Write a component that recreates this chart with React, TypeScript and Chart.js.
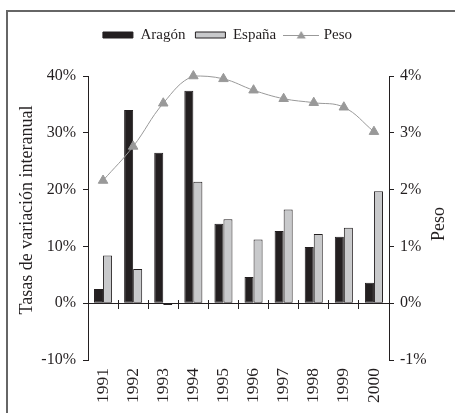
import React, { useEffect, useRef } from 'react';
import { Chart, registerables } from 'chart.js';

Chart.register(...registerables);

const categories = ['1991', '1992', '1993', '1994', '1995', '1996', '1997', '1998', '1999', '2000'];
const aragon = [2.5, 34.0, 26.5, 37.4, 14.0, 4.6, 12.7, 9.9, 11.7, 3.6];
const espana = [8.4, 6.0, -0.3, 21.4, 14.8, 11.2, 16.5, 12.2, 13.3, 19.7];
const peso = [2.16, 2.76, 3.52, 4.0, 3.95, 3.75, 3.6, 3.53, 3.45, 3.02];

const leftTitle = 'Tasas de variación interanual';
const rightTitle = 'Peso';
const seriesNames = ['Aragón', 'España', 'Peso'];

const INK = '#231f20';
const GRAY_BAR = '#c8c9cb';
const LINE_GRAY = '#999999';
const FONT = '"Liberation Serif", "Times New Roman", serif';

export default function App() {
  const ref = useRef<HTMLCanvasElement>(null);

  useEffect(() => {
    if (!ref.current) return;

    const legendLine = document.createElement('canvas');
    legendLine.width = 36;
    legendLine.height = 10;
    const lc = legendLine.getContext('2d')!;
    lc.strokeStyle = LINE_GRAY;
    lc.lineWidth = 1;
    lc.beginPath();
    lc.moveTo(0, 5.5);
    lc.lineTo(36, 5.5);
    lc.stroke();
    lc.fillStyle = LINE_GRAY;
    lc.beginPath();
    lc.moveTo(18, 1);
    lc.lineTo(22.5, 8.5);
    lc.lineTo(13.5, 8.5);
    lc.closePath();
    lc.fill();

    const sideTitles = {
      id: 'sideTitles',
      afterDraw(chart: any) {
        const { ctx } = chart;
        ctx.save();
        ctx.fillStyle = INK;
        ctx.font = `18px ${FONT}`;
        ctx.textAlign = 'center';
        ctx.textBaseline = 'middle';
        ctx.translate(27, 210);
        ctx.rotate(-Math.PI / 2);
        ctx.fillText(leftTitle, 0, 0);
        ctx.restore();
        ctx.save();
        ctx.fillStyle = INK;
        ctx.font = `18px ${FONT}`;
        ctx.textAlign = 'center';
        ctx.textBaseline = 'middle';
        ctx.translate(439, 224);
        ctx.rotate(-Math.PI / 2);
        ctx.fillText(rightTitle, 0, 0);
        ctx.restore();
      },
    };

    const tickFont = { family: FONT, size: 16 };

    const chart = new Chart(ref.current, {
      type: 'bar',
      data: {
        labels: categories,
        datasets: [
          {
            type: 'bar',
            label: seriesNames[0],
            data: aragon,
            backgroundColor: INK,
            borderColor: INK,
            borderWidth: 1,
            borderSkipped: false,
            xAxisID: 'x',
            yAxisID: 'y',
            order: 1,
            barPercentage: 1,
            categoryPercentage: 0.6,
          },
          {
            type: 'bar',
            label: seriesNames[1],
            data: espana,
            backgroundColor: GRAY_BAR,
            borderColor: INK,
            borderWidth: 1,
            borderSkipped: false,
            xAxisID: 'x',
            yAxisID: 'y',
            order: 1,
            barPercentage: 1,
            categoryPercentage: 0.6,
          },
          {
            type: 'line',
            label: seriesNames[2],
            data: peso,
            xAxisID: 'x',
            yAxisID: 'y1',
            borderColor: LINE_GRAY,
            backgroundColor: LINE_GRAY,
            borderWidth: 1,
            pointStyle: 'triangle',
            pointRadius: 5.5,
            pointBackgroundColor: LINE_GRAY,
            pointBorderColor: LINE_GRAY,
            pointBorderWidth: 1,
            tension: 0.4,
            fill: false,
            clip: false,
            order: 0,
          },
        ],
      } as any,
      options: {
        responsive: false,
        animation: false,
        layout: { padding: { top: 17.5, left: 0, right: 0, bottom: 0 } },
        plugins: {
          tooltip: { enabled: false },
          legend: {
            position: 'top',
            labels: {
              font: { family: FONT, size: 15 },
              color: INK,
              usePointStyle: true,
              pointStyleWidth: 30,
              boxHeight: 6,
              padding: 10,
              sort: (a: any, b: any) => a.datasetIndex - b.datasetIndex,
              generateLabels(c: any) {
                const items = (Chart.defaults.plugins.legend.labels as any).generateLabels(c);
                items.forEach((it: any) => {
                  it.pointStyle = it.datasetIndex === 2 ? legendLine : 'rect';
                });
                return items;
              },
            },
          },
        },
        scales: {
          x: {
            type: 'category',
            position: 'bottom',
            offset: true,
            grid: { display: false, drawTicks: false },
            border: { display: false },
            ticks: {
              font: { family: FONT, size: 17.5 },
              color: INK,
              maxRotation: 90,
              minRotation: 90,
              padding: 8,
              autoSkip: false,
            },
            afterFit: (s: any) => {
              s.height = 53;
            },
          },
          xTickDown: {
            axis: 'x',
            type: 'category',
            labels: categories,
            position: { y: 0 },
            offset: true,
            grid: { offset: true, drawOnChartArea: false, tickLength: 6, color: INK, tickColor: INK },
            border: { display: false },
            ticks: { display: false },
          },
          xTickUp: {
            axis: 'x',
            type: 'category',
            labels: categories,
            position: { y: 0 },
            offset: true,
            grid: { offset: true, drawOnChartArea: false, tickLength: -3, color: INK, tickColor: INK },
            border: { display: false },
            ticks: { display: false },
          },
          xpad: {
            axis: 'x',
            type: 'category',
            labels: categories,
            position: 'top',
            grid: { display: false, drawTicks: false },
            border: { display: false },
            ticks: { display: false },
            afterFit: (s: any) => {
              s.height = 23.5;
            },
          },
          y: {
            position: 'left',
            min: -10,
            max: 40,
            ticks: {
              stepSize: 10,
              callback: (v: any) => `${v}%`,
              font: tickFont,
              color: INK,
              padding: 7,
            },
            grid: {
              drawOnChartArea: true,
              color: (ctx: any) => (ctx.tick && ctx.tick.value === 0 ? INK : 'rgba(0,0,0,0)'),
              tickColor: INK,
              tickLength: 5,
            },
            border: { display: true, color: INK },
            afterFit: (s: any) => {
              s.width = 88;
            },
          },
          y1: {
            position: 'right',
            min: -1,
            max: 4,
            ticks: {
              stepSize: 1,
              callback: (v: any) => `${v}%`,
              font: tickFont,
              color: INK,
              padding: 6,
            },
            grid: { drawOnChartArea: false, tickColor: INK, tickLength: 5 },
            border: { display: true, color: INK },
            afterFit: (s: any) => {
              s.width = 66;
            },
          },
        },
      } as any,
      plugins: [sideTitles],
    });

    return () => {
      chart.destroy();
    };
  }, []);

  return (
    <div
      style={{
        position: 'fixed',
        left: 0,
        top: 0,
        width: 455,
        height: 413,
        background: '#ffffff',
        overflow: 'hidden',
      }}
    >
      <div
        style={{
          position: 'absolute',
          left: 6,
          top: 10,
          width: 470,
          height: 430,
          borderLeft: '2px solid #666666',
          borderTop: '2px solid #666666',
        }}
      />
      <canvas
        ref={ref}
        width={455}
        height={413}
        style={{ position: 'absolute', left: 0, top: 0, width: 455, height: 413 }}
      />
    </div>
  );
}
